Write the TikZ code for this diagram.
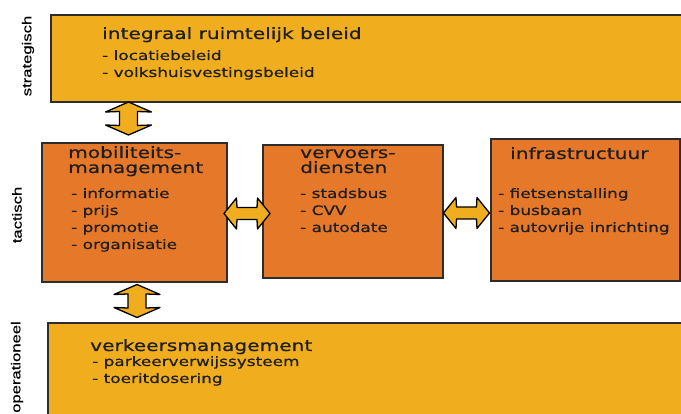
\documentclass[tikz,border=0pt]{standalone}
\usepackage{fontspec}
\newfontfamily\boxfont{DejaVu Sans}[FakeStretch=1.3, FakeBold=0.7]
\newfontfamily\sidefont{Liberation Sans}[FakeStretch=1.28, FakeBold=0.5]
\definecolor{gold}{RGB}{240,174,30}
\definecolor{orng}{RGB}{230,120,42}
\definecolor{linecol}{RGB}{45,45,45}
\definecolor{txt}{RGB}{30,30,30}
\tikzset{
  gbox/.style={draw=linecol, line width=2pt, fill=gold, inner sep=0pt, anchor=north west},
  obox/.style={draw=linecol, line width=2pt, fill=orng, inner sep=0pt, anchor=north west},
  ttl/.style={anchor=base west, inner sep=0pt, text=txt, font=\boxfont\fontsize{15.5}{18}\selectfont},
  itm/.style={anchor=base west, inner sep=0pt, text=txt, font=\boxfont\fontsize{13}{16}\selectfont},
  side/.style={rotate=90, inner sep=0pt, text=black, font=\sidefont\fontsize{13}{15}\selectfont},
  arrowsty/.style={draw=black, line width=1.3pt, fill=gold, line join=round},
  hdbl/.pic={\path[arrowsty] (-23,0) -- (-10.5,-15.5) -- (-10,-6) -- (10,-6) -- (10.5,-15.5) -- (23,0)
      -- (10.5,15.5) -- (10,6) -- (-10,6) -- (-10.5,15.5) -- cycle;},
  vdbl/.pic={\path[arrowsty] (0,-16.5) -- (23,-6.5) -- (9,-7) -- (9,7) -- (23,6.5) -- (0,16.5)
      -- (-23,6.5) -- (-9,7) -- (-9,-7) -- (-23,-6.5) -- cycle;},
}
\begin{document}
\begin{tikzpicture}[x=1pt, y=-1pt]
\useasboundingbox (0,0) rectangle (681,414);
\fill[white] (0,0) rectangle (681,414);
% boxes
\node[gbox, minimum width=640pt, minimum height=87pt] (top) at (50,14) {};
\node[obox, minimum width=185pt, minimum height=139pt] (mob) at (41,142) {};
\node[obox, minimum width=180pt, minimum height=133pt] (verv) at (262,144) {};
\node[obox, minimum width=189pt, minimum height=142pt] (infra) at (490,138) {};
\node[gbox, minimum width=643pt, minimum height=100pt] (bot) at (47,322) {};
% side labels
\node[side] (lstrat) at (28,56) {strategisch};
\node[side] (ltact) at (17,215) {tactisch};
\node[side] (loper) at (17,367) {operationeel};
% top text
\node[ttl] (t0) at (102,39) {integraal ruimtelijk beleid};
\node[itm] (t1) at (102,60) {- locatiebeleid};
\node[itm] (t2) at (102,77) {- volkshuisvestingsbeleid};
% mobiliteit
\node[ttl] (m0) at (68,158) {mobiliteits-};
\node[ttl] (m0b) at (68,173) {management};
\node[itm] (m1) at (71,198) {- informatie};
\node[itm] (m2) at (71,215) {- prijs};
\node[itm] (m3) at (71,232) {- promotie};
\node[itm] (m4) at (71,249) {- organisatie};
% vervoer
\node[ttl] (v0) at (300,158) {vervoers-};
\node[ttl] (v0b) at (300,173) {diensten};
\node[itm] (v1) at (300,198) {- stadsbus};
\node[itm] (v2) at (300,215) {- CVV};
\node[itm] (v3) at (300,232) {- autodate};
% infra
\node[ttl] (i0) at (510,159) {infrastructuur};
\node[itm] (i1) at (498,198) {- fietsenstalling};
\node[itm] (i2) at (498,215) {- busbaan};
\node[itm] (i3) at (498,232) {- autovrije inrichting};
% bottom
\node[ttl] (b0) at (90,351) {verkeersmanagement};
\node[itm] (b1) at (92,366) {- parkeerverwijssysteem};
\node[itm] (b2) at (92,383) {- toeritdosering};
% arrows
\pic (a1) at (128.5,118.5) {vdbl};
\pic (a2) at (247,213.5) {hdbl};
\pic (a3) at (466.5,213) {hdbl};
\pic (a4) at (137,301) {vdbl};
\end{tikzpicture}
\end{document}
